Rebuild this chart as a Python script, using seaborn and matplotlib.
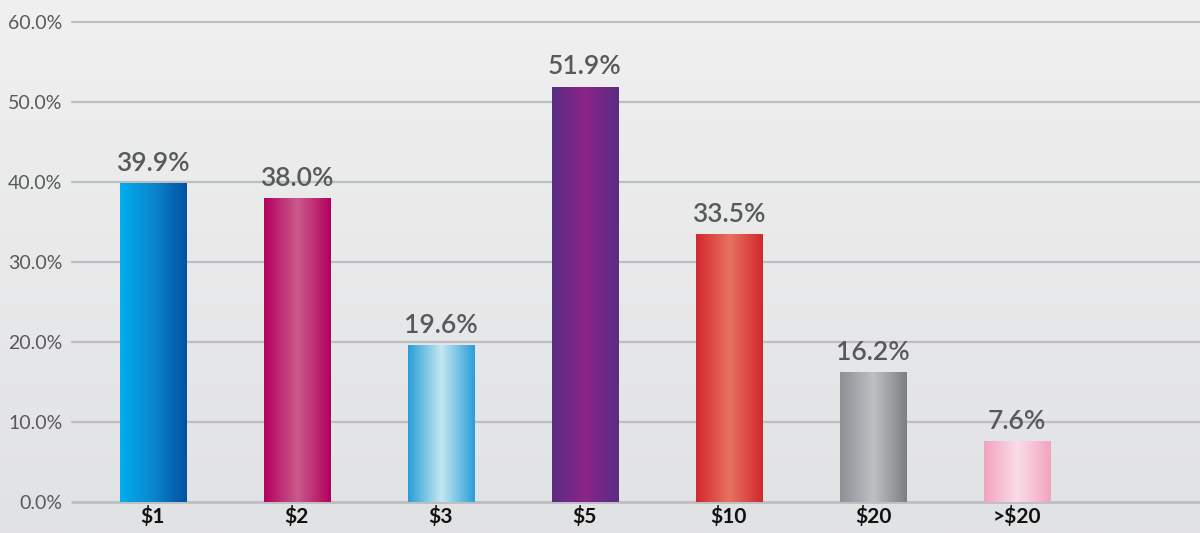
import numpy as np
import pandas as pd
import matplotlib
matplotlib.use("Agg")
import matplotlib.pyplot as plt
from matplotlib.colors import LinearSegmentedColormap
import seaborn as sns

# chart data
categories = ["$1", "$2", "$3", "$5", "$10", "$20", ">$20"]
shares = [39.9, 38.0, 19.6, 51.9, 33.5, 16.2, 7.6]
y_ticks = [0, 10, 20, 30, 40, 50, 60]

# left -> middle -> right colour stops for each bar's gradient
bar_gradients = [
    ["#00AEEF", "#0A86CC", "#0052A2"],
    ["#B3005E", "#C95B8B", "#B3005E"],
    ["#2A9ED8", "#C4E8F0", "#2A9ED8"],
    ["#5A2D82", "#8B2489", "#5A2D82"],
    ["#D1282E", "#E8725F", "#D1282E"],
    ["#8E8F94", "#BFC0C4", "#7D7E82"],
    ["#F3A3BE", "#FADCE8", "#F3A3BE"],
]

df = pd.DataFrame({"category": categories, "share": shares})

sns.set_theme(style="white")
plt.rcParams['font.family'] = ['Lato', 'DejaVu Sans']

fig = plt.figure(figsize=(12, 5.33), dpi=100)

# soft grey background gradient
bg = fig.add_axes([0, 0, 1, 1], zorder=-10)
bg_grad = np.linspace(0, 1, 256).reshape(-1, 1)
bg_cmap = LinearSegmentedColormap.from_list("bg", ["#F0F0F0", "#E1E2E4"])
bg.imshow(bg_grad, aspect="auto", cmap=bg_cmap, extent=[0, 1, 0, 1])
bg.set_axis_off()

ax = fig.add_axes([0.06, 0.058, 0.94, 0.901])
ax.patch.set_alpha(0)

sns.barplot(data=df, x="category", y="share", color="#888888", width=0.46,
            ax=ax, zorder=3)

ax.set_xlim(-0.56, 7.27)
ax.set_ylim(0, 60)
ax.set_yticks(y_ticks)
ax.set_yticklabels([f"{t:.1f}%" for t in y_ticks], color="#58595B", fontsize=14)
ax.tick_params(axis="y", length=0, pad=7)
ax.tick_params(axis="x", length=0, pad=3)
for lbl in ax.get_xticklabels():
    lbl.set_fontweight("bold")
    lbl.set_fontsize(15)
    lbl.set_color("#111111")
ax.set_xlabel("")
ax.set_ylabel("")

for t in y_ticks:
    ax.axhline(t, color="#BDBEC1", linewidth=1.6 if t else 2.0, zorder=1,
               clip_on=False)

for s in ax.spines.values():
    s.set_visible(False)

# paint horizontal gradients into each bar
grad = np.linspace(0, 1, 256).reshape(1, -1)
for patch, stops, val in zip(ax.patches, bar_gradients, shares):
    x0, y0 = patch.get_x(), patch.get_y()
    w, h = patch.get_width(), patch.get_height()
    cmap = LinearSegmentedColormap.from_list("bar", stops)
    im = ax.imshow(grad, aspect="auto", cmap=cmap,
                   extent=[x0, x0 + w, y0, y0 + h], zorder=4)
    im.set_clip_path(patch)
    patch.set_facecolor("none")
    patch.set_edgecolor("none")
    ax.text(x0 + w / 2, val + 0.9, f"{val:.1f}%", ha="center", va="bottom",
            fontsize=19, color="#58595B", fontweight="semibold", zorder=5)

ax.set_xlim(-0.56, 7.27)
ax.set_ylim(0, 60)

fig.savefig("out.png", dpi=100)
